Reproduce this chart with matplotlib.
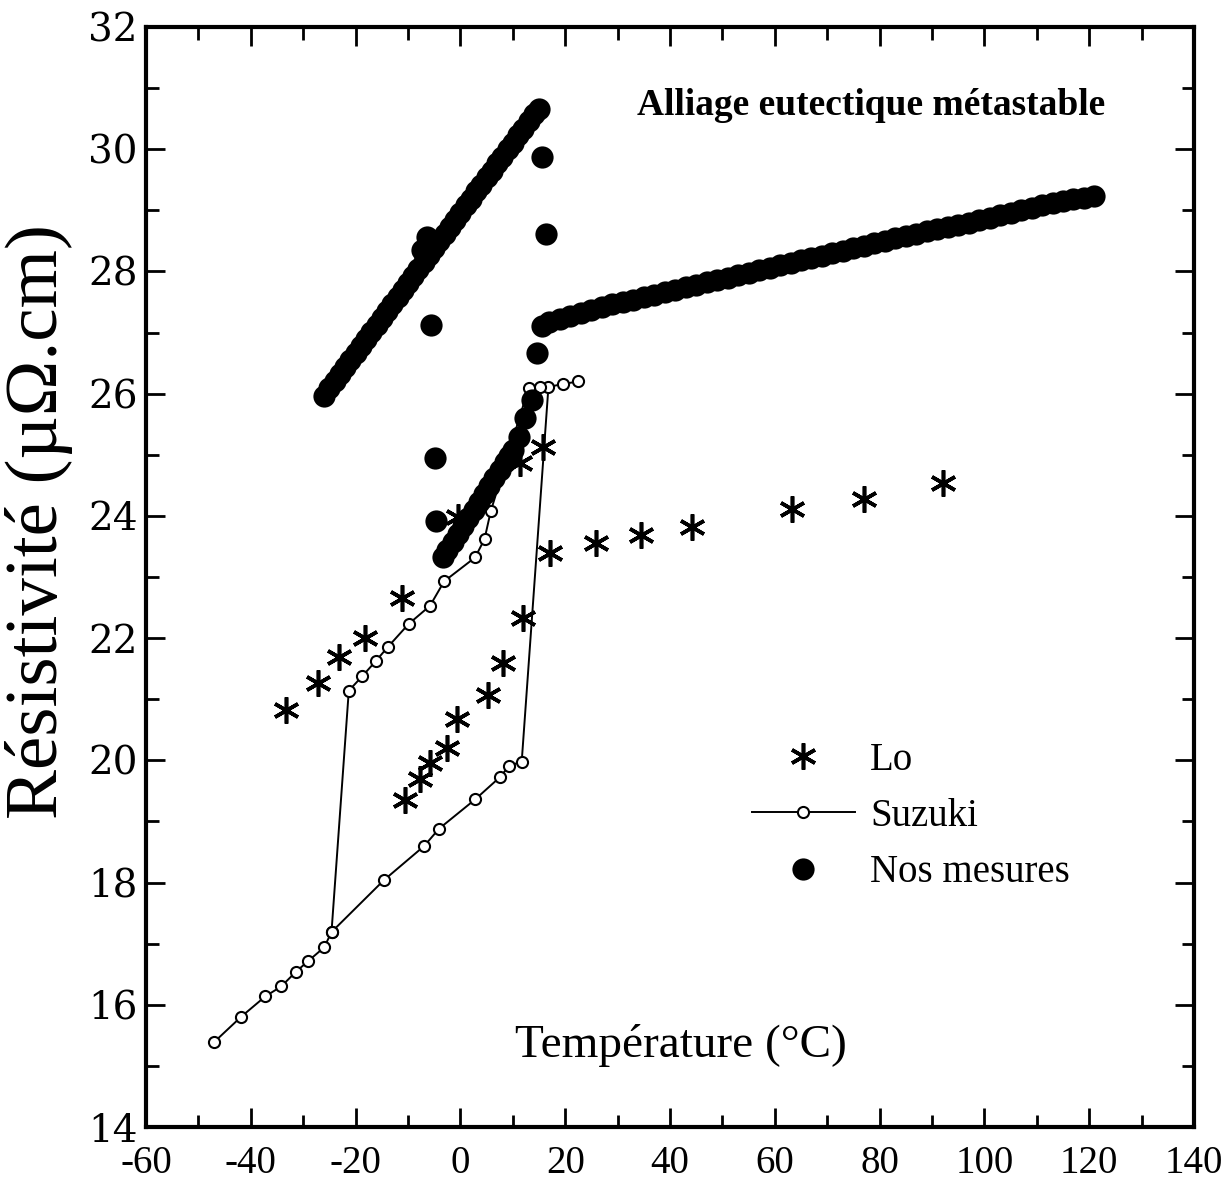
#!/usr/bin/env python3
# -*- coding: utf-8 -*-
"""
Résistivité de l'alliage eutectique métastable : Lo, Suzuki et nos mesures
"""

import matplotlib
matplotlib.use('Agg')
import matplotlib.pyplot as plt
from matplotlib.lines import Line2D
from matplotlib.ticker import MultipleLocator

plt.rcParams['font.family'] = ['Liberation Serif', 'DejaVu Serif']
plt.rcParams['axes.unicode_minus'] = False

# --- Lo (asterisks)
lo_t = [-33.3, -27.2, -23.2, -18.2, -11.1, -0.5, 11.4, 15.8, 17.1, 25.9, 34.5,
        44.2, 63.3, 77.0, 92.1, -10.6, -7.7, -5.8, -2.6, -0.65, 5.3, 8.1, 11.9]
lo_r = [20.82, 21.26, 21.69, 22.00, 22.65, 23.98, 24.86, 25.13, 23.39, 23.55, 23.69,
        23.82, 24.11, 24.27, 24.54, 19.35, 19.69, 19.95, 20.20, 20.67, 21.07, 21.59, 22.33]

# --- Suzuki, heating branch then cooling branch
suz_heat_t = [-47.0, -41.9, -37.2, -34.2, -31.4, -29.0, -26.0, -24.6, -14.6, -6.9,
              -4.1, 2.8, 7.6, 9.3, 11.7, 16.8, 19.6, 22.5]
suz_heat_r = [15.39, 15.80, 16.14, 16.30, 16.54, 16.72, 16.94, 17.19, 18.04, 18.60,
              18.88, 19.36, 19.73, 19.91, 19.98, 26.11, 26.16, 26.20]
suz_cool_t = [15.2, 13.0, 5.8, 4.6, 2.8, -3.1, -5.8, -9.9, -13.9, -16.2, -18.7, -21.3, -24.6]
suz_cool_r = [26.11, 26.09, 24.08, 23.62, 23.32, 22.93, 22.53, 22.23, 21.85, 21.62,
              21.38, 21.14, 17.19]

# --- Nos mesures
# branche haute
nos1_t = [-26, -25, -24, -23, -22, -21, -20, -19, -18, -17, -16, -15, -14, -13,
          -12, -11, -10, -9, -8, -7, -6, -5, -4, -3, -2, -1, 0, 1, 2, 3, 4, 5,
          6, 7, 8, 9, 10, 11, 12, 13, 14, 15, -6.4, -7.4]
nos1_r = [25.97, 26.09, 26.20, 26.32, 26.43, 26.55, 26.66, 26.78, 26.89, 27.01,
          27.12, 27.24, 27.35, 27.47, 27.58, 27.70, 27.81, 27.93, 28.04, 28.16,
          28.27, 28.39, 28.50, 28.62, 28.73, 28.85, 28.96, 29.08, 29.19, 29.31,
          29.42, 29.54, 29.65, 29.77, 29.88, 30.00, 30.11, 30.23, 30.34, 30.46,
          30.57, 30.66, 28.57, 28.35]
# branche basse
nos2_t = [-3.4, -2.5, -1.5, -0.5, 0.5, 1.5, 2.5, 3.5, 4.5, 5.5, 6.5, 7.5, 8.5,
          9.3, 10.1, 11.2, 12.3, 13.6]
nos2_r = [23.33, 23.45, 23.58, 23.71, 23.84, 23.97, 24.10, 24.23, 24.36, 24.49,
          24.62, 24.75, 24.88, 24.98, 25.08, 25.29, 25.60, 25.90]
# points de transition isolés
nos_iso_t = [15.6, 16.3, -5.6, 14.6, -4.8, -4.6]
nos_iso_r = [29.87, 28.62, 27.13, 26.66, 24.95, 23.92]
# au-dessus de la transition
nos3_t = [15.6, 17, 19, 21, 23, 25, 27, 29, 31, 33, 35, 37, 39, 41, 43, 45, 47,
          49, 51, 53, 55, 57, 59, 61, 63, 65, 67, 69, 71, 73, 75, 77, 79, 81, 83,
          85, 87, 89, 91, 93, 95, 97, 99, 101, 103, 105, 107, 109, 111, 113, 115,
          117, 119, 121]
nos3_r = [27.11, 27.17, 27.22, 27.27, 27.32, 27.37, 27.42, 27.46, 27.50, 27.54,
          27.58, 27.62, 27.66, 27.70, 27.74, 27.78, 27.82, 27.86, 27.90, 27.94,
          27.98, 28.02, 28.06, 28.10, 28.14, 28.18, 28.22, 28.26, 28.30, 28.34,
          28.38, 28.42, 28.46, 28.50, 28.54, 28.58, 28.62, 28.66, 28.70, 28.73,
          28.76, 28.80, 28.84, 28.88, 28.92, 28.96, 29.00, 29.04, 29.08, 29.12,
          29.15, 29.18, 29.21, 29.24]

fig = plt.figure(figsize=(12.28, 11.92), dpi=100)
ax = fig.add_axes([0.1189, 0.0545, 0.8534, 0.9228])

ax.set_xlim(-60, 140)
ax.set_ylim(14, 32)

# Suzuki
suz_style = dict(color='black', lw=1.4, marker='o', ms=8, mfc='white',
                 mec='black', mew=1.5, zorder=2)
ax.plot(suz_heat_t, suz_heat_r, **suz_style)
ax.plot(suz_cool_t, suz_cool_r, **suz_style)

# Lo
lo_style = dict(ls='none', marker=(6, 2, 0), ms=19, mec='black', mew=2.6, zorder=3)
ax.plot(lo_t, lo_r, **lo_style)

# Nos mesures
nos_style = dict(ls='none', marker='o', ms=16, mfc='black', mec='black', mew=0, zorder=4)
for t, r in [(nos1_t, nos1_r), (nos2_t, nos2_r), (nos_iso_t, nos_iso_r), (nos3_t, nos3_r)]:
    ax.plot(t, r, **nos_style)

# axes styling
for sp in ax.spines.values():
    sp.set_linewidth(3)
ax.xaxis.set_major_locator(MultipleLocator(20))
ax.xaxis.set_minor_locator(MultipleLocator(10))
ax.yaxis.set_major_locator(MultipleLocator(2))
ax.yaxis.set_minor_locator(MultipleLocator(1))
ax.tick_params(which='both', direction='in', top=True, right=True, width=2)
ax.tick_params(which='major', length=14)
ax.tick_params(which='minor', length=9)
ax.tick_params(axis='x', labelsize=28, pad=13)
ax.tick_params(axis='y', labelsize=28, pad=6)
for lab in ax.get_yticklabels():
    lab.set_family('DejaVu Serif')

ax.set_ylabel('Résistivité (µΩ.cm)', fontsize=54)
ax.yaxis.set_label_coords(-0.102, 0.55)
ax.yaxis.label.set_va('center')

ax.text(42.1, 15.34, 'Température (°C)', fontsize=34, ha='center', va='center')
ax.text(123.0, 30.72, 'Alliage eutectique métastable', fontsize=27,
        fontweight='bold', ha='right', va='center')

# legend
handles = [
    Line2D([], [], **lo_style),
    Line2D([], [], **suz_style),
    Line2D([], [], **nos_style),
]
ax.legend(handles, ['Lo', 'Suzuki', 'Nos mesures'], loc='upper left',
          bbox_to_anchor=(0.578, 0.350), frameon=False, fontsize=28,
          handlelength=2.65, handletextpad=0.4, labelspacing=0.49,
          borderpad=0, borderaxespad=0, numpoints=1)

plt.savefig('out.png', dpi=100, facecolor='white')
